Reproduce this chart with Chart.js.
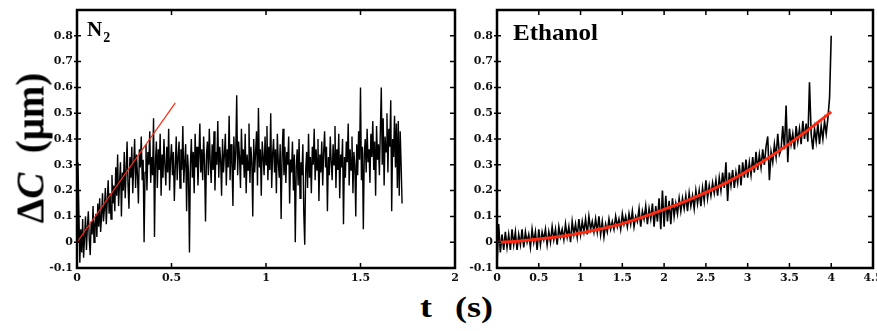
<!DOCTYPE html>
<html>
<head>
<meta charset="utf-8">
<script src="https://cdn.jsdelivr.net/npm/chart.js@4"></script>
<style>
  body { margin: 0; background: #fff; width: 877px; height: 331px; overflow: hidden; position: relative; font-family: "Liberation Serif", serif; }
  .box { position: absolute; top: 0; height: 290px; }
  .lbl { position: absolute; font-weight: bold; color: #000; white-space: nowrap; line-height: 1; }
</style>
</head>
<body>
<div class="box" style="left:0;width:460px"><canvas id="n2Chart"></canvas></div>
<div class="box" style="left:460px;width:417px"><canvas id="ethChart"></canvas></div>

<div class="lbl" style="left:87px;top:19px;font-size:21px">N<span style="font-size:14px;position:relative;top:6px;margin-left:1px">2</span></div>
<div class="lbl" style="left:513px;top:21px;font-size:23px;transform:scaleX(1.09);transform-origin:left">Ethanol</div>
<div class="lbl" style="left:30px;top:148px;font-size:39px;transform:translate(-50%,-50%) rotate(-90deg)">&Delta;<i>C</i>&nbsp;&nbsp;(&mu;m)</div>
<div class="lbl" style="left:420px;top:292px;font-size:30px;transform:scaleX(1.2);transform-origin:left">t</div>
<div class="lbl" style="left:455px;top:292px;font-size:30px;transform:scaleX(1.2);transform-origin:left">(s)</div>

<script>
// N2 panel: sampled every 0.005 s (0 .. 1.72 s)
const n2Step = 0.005;
const n2Values = [
  0.00, 0.31, 0.12, -0.08, 0.05, -0.04, 0.09, -0.06, 0.02, 0.10,
  -0.03, 0.06, 0.12, 0.01, -0.05, 0.08, 0.03, 0.14, 0.00, 0.07,
  0.11, 0.02, 0.15, 0.06, 0.17, 0.04, 0.10, 0.19, 0.08, 0.13,
  0.21, 0.07, 0.16, 0.24, 0.11, 0.19, 0.09, 0.26, 0.15, 0.22,
  0.12, 0.29, 0.18, 0.34, 0.14, 0.23, 0.31, 0.10, 0.27, 0.20,
  0.35, 0.17, 0.28, 0.39, 0.22, 0.13, 0.33, 0.25, 0.37, 0.19,
  0.30, 0.40, 0.21, 0.34, 0.26, 0.15, 0.36, 0.29, 0.41, 0.24,
  0.32, 0.00, 0.27, 0.38, 0.20, 0.35, 0.30, 0.43, 0.23, 0.33,
  0.26, 0.48, 0.02, 0.31, 0.39, 0.21, 0.36, 0.28, 0.42, 0.18,
  0.34, 0.25, 0.40, 0.30, 0.22, 0.37, 0.27, 0.44, 0.20, 0.32,
  0.38, 0.26, 0.35, 0.16, 0.29, 0.41, 0.24, 0.33, 0.39, 0.21,
  0.36, 0.28, 0.45, 0.23, 0.31, 0.38, 0.12, 0.34, 0.27, -0.04,
  0.30, 0.40, 0.25, 0.35, 0.19, 0.42, 0.29, 0.37, 0.22, 0.33,
  0.46, 0.27, 0.36, 0.24, 0.41, 0.30, 0.08, 0.34, 0.39, 0.26,
  0.44, 0.31, 0.23, 0.38, 0.28, 0.43, 0.20, 0.35, 0.30, 0.47,
  0.25, 0.37, 0.32, 0.18, 0.40, 0.27, 0.34, 0.42, 0.22, 0.36,
  0.29, 0.49, 0.24, 0.38, 0.31, 0.14, 0.41, 0.28, 0.35, 0.57,
  0.26, 0.39, 0.33, 0.21, 0.44, 0.30, 0.36, 0.25, 0.42, 0.19,
  0.34, 0.28, 0.46, 0.23, 0.37, 0.31, 0.10, 0.40, 0.27, 0.35,
  0.43, 0.22, 0.52, 0.29, 0.36, 0.18, 0.39, 0.33, 0.26, 0.41,
  0.30, 0.45, 0.24, 0.37, 0.28, 0.50, 0.21, 0.34, 0.40, 0.27,
  0.36, 0.19, 0.42, 0.31, 0.25, 0.38, 0.09, 0.33, 0.44, 0.26,
  0.37, 0.23, 0.35, 0.30, 0.41, 0.15, 0.32, 0.27, 0.39, 0.20,
  0.34, 0.00, 0.29, 0.36, 0.22, 0.40, 0.17, 0.31, 0.26, 0.38,
  0.11, -0.01, 0.28, 0.35, 0.21, 0.42, 0.25, 0.33, 0.19, 0.37,
  0.30, 0.44, 0.24, 0.36, 0.28, 0.40, 0.16, 0.34, 0.27, 0.39,
  0.22, 0.35, 0.43, 0.29, 0.37, 0.12, 0.33, 0.26, 0.41, 0.31,
  0.24, 0.38, 0.30, 0.45, 0.21, 0.36, 0.28, 0.42, 0.17, 0.34,
  0.29, 0.40, 0.07, 0.33, 0.25, 0.39, 0.31, 0.46, 0.22, 0.36,
  0.28, 0.41, 0.19, 0.35, 0.30, 0.10, 0.38, 0.26, 0.43, 0.32,
  0.60, 0.24, 0.37, 0.05, 0.34, 0.40, 0.27, 0.44, 0.31, 0.36,
  0.23, 0.42, 0.33, 0.47, 0.28, 0.39, 0.18, 0.45, 0.32, 0.38,
  0.26, 0.43, 0.60, 0.30, 0.48, 0.22, 0.41, 0.35, 0.50, 0.27,
  0.44, 0.37, 0.55, 0.12, 0.40, 0.33, 0.49, 0.29, 0.46, 0.21,
  0.47, 0.18, 0.43, 0.30, 0.15
];
const n2FitT = [0, 0.52];
const n2FitC = [0, 0.54];

// Ethanol panel: sampled every 0.02 s (0 .. 4 s)
const ethStep = 0.02;
const ethValues = [
  -0.09, 0.07, -0.04, 0.03, -0.03, 0.04, -0.02, 0.03, -0.03, 0.05,
  -0.01, 0.04, -0.03, 0.03, -0.01, 0.05, -0.02, 0.04, 0.00, 0.03,
  -0.02, 0.05, 0.00, 0.04, -0.03, 0.05, -0.01, 0.04, 0.01, 0.05,
  -0.01, 0.04, 0.00, 0.06, 0.01, 0.05, -0.01, 0.06, 0.02, 0.05,
  0.01, 0.07, 0.02, 0.06, 0.00, 0.08, 0.03, 0.07, 0.02, 0.09,
  0.03, 0.08, 0.04, 0.09, 0.03, 0.10, 0.05, 0.08, 0.04, 0.09,
  0.04, 0.10, 0.03, 0.08, 0.02, 0.07, 0.04, 0.09, 0.05, 0.08,
  0.05, 0.10, 0.06, 0.09, 0.05, 0.11, 0.07, 0.10, 0.06, 0.11,
  0.07, 0.12, 0.06, 0.10, 0.08, 0.13, 0.06, 0.12, 0.09, 0.14,
  0.07, 0.13, 0.09, 0.15, 0.06, 0.14, 0.08, 0.17, 0.05, 0.20,
  0.06, 0.18, 0.08, 0.16, 0.07, 0.17, 0.10, 0.15, 0.11, 0.17,
  0.12, 0.17, 0.13, 0.18, 0.12, 0.19, 0.14, 0.18, 0.13, 0.20,
  0.15, 0.20, 0.14, 0.21, 0.16, 0.24, 0.17, 0.22, 0.18, 0.23,
  0.19, 0.24, 0.18, 0.25, 0.20, 0.27, 0.21, 0.31, 0.16, 0.27,
  0.22, 0.28, 0.21, 0.27, 0.23, 0.30, 0.22, 0.31, 0.25, 0.32,
  0.25, 0.31, 0.26, 0.33, 0.27, 0.35, 0.28, 0.34, 0.29, 0.36,
  0.30, 0.37, 0.41, 0.24, 0.35, 0.31, 0.38, 0.33, 0.42, 0.34,
  0.36, 0.45, 0.36, 0.53, 0.31, 0.44, 0.38, 0.42, 0.36, 0.45,
  0.39, 0.44, 0.38, 0.47, 0.40, 0.46, 0.39, 0.62, 0.42, 0.36,
  0.44, 0.39, 0.46, 0.38, 0.45, 0.40, 0.47, 0.42, 0.48, 0.56,
  0.80
];
const ethFitT = [0, 0.25, 0.5, 0.75, 1, 1.25, 1.5, 1.75, 2, 2.25, 2.5, 2.75, 3, 3.25, 3.5, 3.75, 4];
const ethFitC = [0, 0.004, 0.012, 0.022, 0.036, 0.052, 0.072, 0.098, 0.127, 0.158, 0.193, 0.232, 0.277, 0.327, 0.382, 0.442, 0.505];

const yTicks = { min: -0.1, max: 0.9, step: 0.1 };
const red = '#ff2a10';

function toPoints(values, step) {
  return values.map((v, i) => ({ x: +(i * step).toFixed(3), y: v }));
}
function pairPoints(xs, ys) {
  return xs.map((x, i) => ({ x: x, y: ys[i] }));
}
function fmt(v) {
  return String(Math.round(v * 10) / 10);
}

// frame + inward tick marks on all four sides
const framePlugin = {
  id: 'frame',
  afterDraw(chart) {
    const { ctx, chartArea: a, scales: { x, y } } = chart;
    ctx.save();
    ctx.strokeStyle = '#000';
    ctx.lineWidth = 1.5;
    ctx.beginPath();
    x.ticks.forEach(t => {
      const px = x.getPixelForValue(t.value);
      if (px <= a.left + 1 || px >= a.right - 1) return;
      ctx.moveTo(px, a.bottom); ctx.lineTo(px, a.bottom - 5);
      ctx.moveTo(px, a.top); ctx.lineTo(px, a.top + 5);
    });
    y.ticks.forEach(t => {
      const py = y.getPixelForValue(t.value);
      if (py <= a.top + 1 || py >= a.bottom - 1) return;
      ctx.moveTo(a.left - 3, py); ctx.lineTo(a.left + 4, py);
      ctx.moveTo(a.right, py); ctx.lineTo(a.right - 5, py);
    });
    ctx.stroke();
    ctx.lineWidth = 2.5;
    ctx.strokeRect(a.left, a.top, a.right - a.left, a.bottom - a.top);
    ctx.restore();
  }
};

const tickFont = { family: '"DejaVu Serif", serif', size: 11, weight: 'bold' };

function makeChart(id, xMax, yWidth, padRight, datasets) {
  return new Chart(document.getElementById(id), {
    type: 'line',
    data: { datasets: datasets },
    options: {
      responsive: true,
      maintainAspectRatio: false,
      animation: false,
      layout: { padding: { top: 10, right: padRight, left: 0, bottom: 0 } },
      plugins: { legend: { display: false }, tooltip: { enabled: false } },
      elements: { point: { radius: 0 } },
      scales: {
        x: {
          type: 'linear', min: 0, max: xMax,
          grid: { display: false, drawTicks: false }, border: { display: false },
          ticks: { stepSize: 0.5, padding: 4, color: '#111', font: tickFont, maxRotation: 0, callback: fmt },
          afterFit(s) { s.height = 22; s.paddingLeft = 0; s.paddingRight = 0; }
        },
        y: {
          min: yTicks.min, max: yTicks.max,
          grid: { display: false, drawTicks: false }, border: { display: false },
          ticks: { stepSize: yTicks.step, padding: 4, color: '#111', font: tickFont,
            callback: v => (v > 0.85 ? '' : fmt(v)) },
          afterFit(s) { s.width = yWidth; s.paddingTop = 0; s.paddingBottom = 0; }
        }
      }
    },
    plugins: [framePlugin]
  });
}

makeChart('n2Chart', 2, 77, 5, [
  { data: pairPoints(n2FitT, n2FitC), borderColor: red, borderWidth: 1.2, order: 0 },
  { data: toPoints(n2Values, n2Step), borderColor: '#000', borderWidth: 1.4, order: 1 }
]);

makeChart('ethChart', 4.5, 37, 4, [
  { data: pairPoints(ethFitT, ethFitC), borderColor: red, borderWidth: 3, cubicInterpolationMode: 'monotone', order: 0 },
  { data: toPoints(ethValues, ethStep), borderColor: '#000', borderWidth: 1.6, order: 1 }
]);
</script>
</body>
</html>
